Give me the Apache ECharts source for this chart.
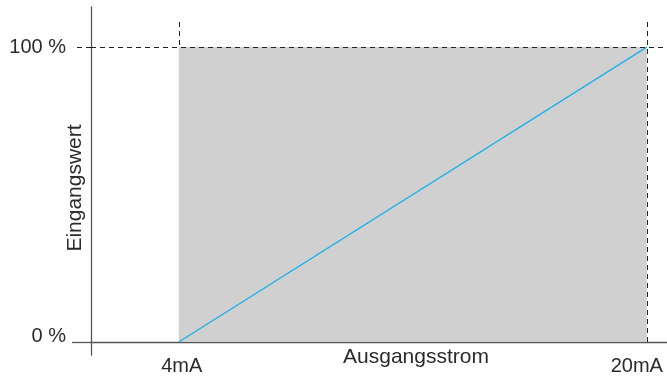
<!DOCTYPE html>
<html>
<head>
<meta charset="utf-8">
<script src="https://cdn.jsdelivr.net/npm/echarts@6/dist/echarts.min.js"></script>
<style>
  html, body { margin: 0; padding: 0; background: #fff; }
  #main { width: 667px; height: 376px; }
</style>
</head>
<body>
<div id="main"></div>
<script>
// Werte aus dem Bild
var currentTicks = [4, 20];          // mA
var percentTicks = [0, 100];         // %
var signalLine = [[4, 0], [20, 100]];
var rangeBox = [[4, 0], [20, 100]];

var font = 'Liberation Sans, Arial, Helvetica, sans-serif';
var textColor = '#2b2b2b';
var dash = [5, 4];

var chart = echarts.init(document.getElementById('main'));

chart.setOption({
  animation: false,
  grid: { left: 91, right: 0, top: 7, bottom: 21, containLabel: false, outerBoundsMode: 'none' },
  xAxis: {
    type: 'value',
    min: 1,
    max: 20.69,
    name: 'Ausgangsstrom',
    nameLocation: 'middle',
    nameGap: -8,
    nameMoveOverlap: false,
    nameTextStyle: { fontFamily: font, fontSize: 21, color: textColor, padding: [0, 0, 0, 74] },
    axisLine: { onZero: true, lineStyle: { color: '#555', width: 1.3 } },
    axisTick: {
      customValues: currentTicks,
      inside: true,
      length: 324,
      lineStyle: { color: '#222', width: 1, type: dash }
    },
    axisLabel: {
      customValues: currentTicks,
      margin: 1,
      fontFamily: font,
      fontSize: 20,
      color: textColor,
      formatter: function (v) {
        return v === 20 ? '{r|' + v + 'mA}' : '{l|' + v + 'mA}';
      },
      rich: {
        l: { fontFamily: font, fontSize: 20, color: textColor, padding: [0, 0, 0, 6] },
        r: { fontFamily: font, fontSize: 20, color: textColor, padding: [0, 20, 0, 0] }
      }
    },
    splitLine: { show: false }
  },
  yAxis: [
    {
      type: 'value',
      min: -4.4,
      max: 113.6,
      name: 'Eingangswert',
      nameLocation: 'middle',
      nameGap: 5,
      nameMoveOverlap: false,
      nameTextStyle: { fontFamily: font, fontSize: 21, color: textColor, padding: [0, 14, 0, 0] },
      axisLine: { show: true, onZero: false, lineStyle: { color: '#555', width: 1.3 } },
      axisTick: { customValues: [0], length: 19, lineStyle: { color: '#555', width: 1.3 } },
      axisLabel: {
        customValues: percentTicks,
        margin: 25,
        fontFamily: font,
        fontSize: 20,
        color: textColor,
        formatter: function (v) {
          return v === 0 ? '{lo|0 %}' : '{n|' + v + ' %}';
        },
        rich: {
          lo: { fontFamily: font, fontSize: 20, color: textColor, padding: [0, 0, 12, 0] },
          n: { fontFamily: font, fontSize: 20, color: textColor }
        }
      },
      splitLine: { show: false }
    },
    {
      type: 'value',
      min: -4.4,
      max: 113.6,
      position: 'left',
      axisLine: { show: false },
      axisTick: { customValues: [100], length: 14, lineStyle: { color: '#222', width: 1, type: dash } },
      axisLabel: { show: false },
      splitLine: { show: false }
    }
  ],
  series: [
    {
      type: 'line',
      data: [],
      markArea: {
        silent: true,
        itemStyle: { color: '#d0d0d0' },
        data: [[{ coord: rangeBox[0] }, { coord: rangeBox[1] }]]
      },
      markLine: {
        silent: true,
        symbol: 'none',
        label: { show: false },
        lineStyle: { color: '#222', width: 1, type: dash },
        data: [{ yAxis: 100 }]
      }
    },
    {
      type: 'line',
      data: signalLine,
      showSymbol: false,
      lineStyle: { color: '#1ab0e8', width: 1.3 },
      z: 5
    }
  ]
});
</script>
</body>
</html>
